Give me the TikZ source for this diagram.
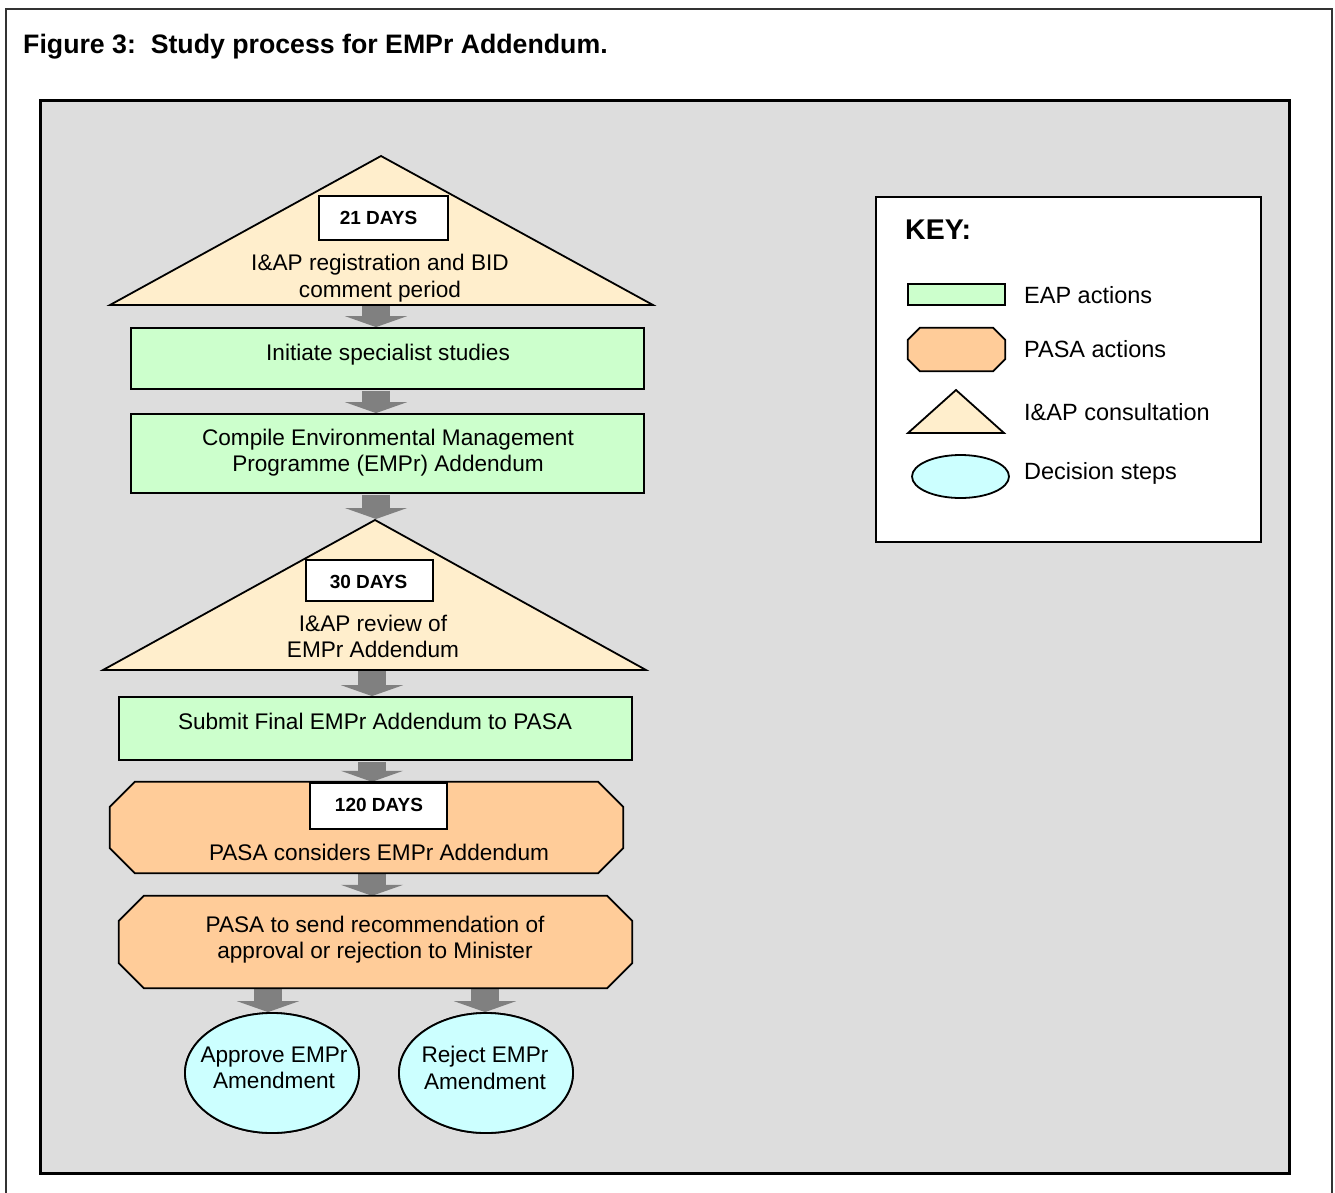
\documentclass[tikz,border=0pt]{standalone}
\usepackage{fontspec}
\setmainfont{Liberation Sans}
\usetikzlibrary{arrows.meta,calc,shapes.geometric}
\definecolor{bggray}{HTML}{DDDDDD}
\definecolor{eap}{HTML}{CCFFCC}
\definecolor{pasa}{HTML}{FFCC99}
\definecolor{iap}{HTML}{FFEECC}
\definecolor{dec}{HTML}{CCFFFF}
\definecolor{arr}{HTML}{808080}
\newcommand\octapath[3]{% node, chamfer, fill
  \draw[shapeline,fill=#3] ($(#1.north west)+(#2,0)$) -- ($(#1.north east)+(-#2,0)$) -- ($(#1.north east)+(0,#2)$) -- ($(#1.south east)+(0,-#2)$) -- ($(#1.south east)+(-#2,0)$) -- ($(#1.south west)+(#2,0)$) -- ($(#1.south west)+(0,-#2)$) -- ($(#1.north west)+(0,#2)$) -- cycle;}
\begin{document}
\begin{tikzpicture}[x=1pt,y=-1pt,
  txt/.style={font=\fontsize{22.6}{26.5}\selectfont, align=center, inner sep=0pt},
  keytxt/.style={font=\fontsize{23.5}{27}\selectfont, anchor=west, inner sep=0pt},
  shapeline/.style={draw=black, line width=1.8pt},
  eapbox/.style={shapeline, fill=eap, rectangle, inner sep=0pt},
  slot/.style={rectangle, inner sep=0pt, draw=none},
  daybox/.style={shapeline, fill=white, rectangle, inner sep=0pt},
  daytxt/.style={inner sep=0pt, font=\fontsize{19}{21}\selectfont\bfseries},
  decision/.style={shapeline, fill=dec, ellipse, inner sep=0pt},
  blk/.style={draw=arr, line width=28pt, -{Triangle[width=62pt,length=11pt]}, shorten <=1pt}
]
\useasboundingbox (0,0) rectangle (1335,1192);
\clip (0,0) rectangle (1335,1192);
% outer frame
\draw[line width=2pt, black!80] (6,9) rectangle (1332,1210);
\node[anchor=base west, inner sep=0pt, font=\fontsize{26.7}{29}\selectfont\bfseries] (title) at (23,53) {Figure 3:\ \ Study process for EMPr Addendum.};
% gray panel
\draw[line width=3pt, fill=bggray] (40,100) rectangle (1289,1173);

% arrow columns
\coordinate (colA) at (376,0);
\coordinate (colB) at (372,0);

% triangle 1
\coordinate (t1a) at (381,156);
\coordinate (t1l) at (110,305);
\coordinate (t1r) at (653,305);
\coordinate (t1b) at (381,305);
% boxes
\node[eapbox, minimum width=513pt, minimum height=61pt] (b1) at (387.5,358.5) {};
\node[eapbox, minimum width=513pt, minimum height=79pt] (b2) at (387.5,453.5) {};
\coordinate (t2a) at (375,520);
\coordinate (t2l) at (103,670);
\coordinate (t2r) at (646,670);
\coordinate (t2b) at (375,670);
\node[eapbox, minimum width=513pt, minimum height=63pt] (b3) at (375.5,728.5) {};
\node[slot, minimum width=513pt, minimum height=91pt] (o1) at (366.5,827.5) {};
\node[slot, minimum width=513pt, minimum height=92pt] (o2) at (375.5,942) {};
\node[decision, minimum width=174pt, minimum height=120pt] (ap) at (272,1073) {};
\node[decision, minimum width=174pt, minimum height=120pt] (rj) at (486,1073) {};

% arrows (behind shapes)
\draw[blk] (t1b -| colA) -- (b1.north -| colA);
\draw[blk] (b1.south -| colA) -- (b2.north -| colA);
\draw[blk] (b2.south -| colA) -- ($(t2a -| colA)+(0,-1)$);
\draw[blk] (t2b -| colB) -- (b3.north -| colB);
\draw[blk] (b3.south -| colB) -- (o1.north -| colB);
\draw[blk] (o1.south -| colB) -- (o2.north -| colB);
\coordinate (colC) at (268,0);
\coordinate (colD) at (485,0);
\draw[blk] (o2.south -| colC) -- (ap.north -| colC);
\draw[blk] (o2.south -| colD) -- (rj.north -| colD);

% shapes on top
\draw[shapeline, fill=iap] (t1a) -- (t1r) -- (t1l) -- cycle;
\node[eapbox, minimum width=513pt, minimum height=61pt] at (b1) {};
\node[eapbox, minimum width=513pt, minimum height=79pt] at (b2) {};
\draw[shapeline, fill=iap] (t2a) -- (t2r) -- (t2l) -- cycle;
\node[eapbox, minimum width=513pt, minimum height=63pt] at (b3) {};
\octapath{o1}{25}{pasa}
\octapath{o2}{25}{pasa}
\node[decision, minimum width=174pt, minimum height=120pt] at (ap) {};
\node[decision, minimum width=174pt, minimum height=120pt] at (rj) {};

% day boxes
\node[daybox, minimum width=129pt, minimum height=44pt] (d1) at (383.5,218) {};
\node[daytxt] (d1t) at (378.5,218) {21 DAYS};
\node[daybox, minimum width=127pt, minimum height=41pt] (d2) at (369.5,580.5) {};
\node[daytxt] (d2t) at (368.5,581.5) {30 DAYS};
\node[daybox, minimum width=137pt, minimum height=46pt] (d3) at (378.5,806) {};
\node[daytxt] (d3t) at (379,805) {120 DAYS};

% texts
\node[txt] (t1t) at (380,278) {I\&AP registration and BID\\comment period};
\node[txt] (b1t) at (388,354.5) {Initiate specialist studies};
\node[txt] (b2t) at (388,452.5) {Compile Environmental Management\\Programme (EMPr) Addendum};
\node[txt] (t2t) at (373,636.5) {I\&AP review of\\EMPr Addendum};
\node[txt] (b3t) at (375,721.5) {Submit Final EMPr Addendum to PASA};
\node[txt] (o1t) at (379,852.5) {PASA considers EMPr Addendum};
\node[txt] (o2t) at (375,939.5) {PASA to send recommendation of\\approval or rejection to Minister};
\node[txt] (apt) at (274,1068) {Approve EMPr\\Amendment};
\node[txt] (rjt) at (485,1068) {Reject EMPr\\Amendment};

% key
\draw[line width=2pt, fill=white] (876,197) rectangle (1261,542);
\node[anchor=west, inner sep=0pt, font=\fontsize{28.5}{30}\selectfont\bfseries] (keyt) at (905,230) {KEY:};
\node[eapbox, minimum width=97pt, minimum height=21pt] (k1) at (956.5,294.5) {};
\node[slot, minimum width=97pt, minimum height=43pt] (k2) at (956.5,349.5) {};
\octapath{k2}{12}{pasa}
\draw[shapeline, fill=iap] (956,390) coordinate (k3a) -- (1004,433) coordinate (k3r) -- (908,433) coordinate (k3l) -- cycle;
\node[decision, minimum width=97pt, minimum height=43pt] (k4) at (960.5,476.5) {};
\node[keytxt] (k1t) at (1024,295.5) {EAP actions};
\node[keytxt] (k2t) at (1024,349.5) {PASA actions};
\node[keytxt] (k3t) at (1024,412.5) {I\&AP consultation};
\node[keytxt] (k4t) at (1024,473.5) {Decision steps};
\end{tikzpicture}
\end{document}
